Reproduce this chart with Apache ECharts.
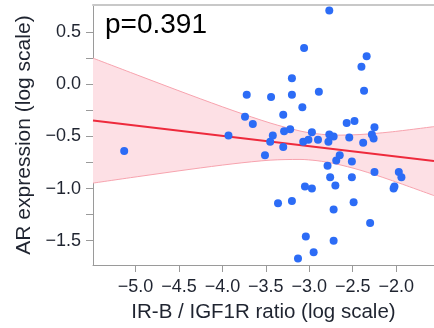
<!DOCTYPE html>
<html>
<head>
<meta charset="utf-8">
<script src="https://cdn.jsdelivr.net/npm/echarts@6/dist/echarts.min.js"></script>
<style>
  html, body { margin: 0; padding: 0; background: #fff; }
  #chart { width: 434px; height: 328px; }
</style>
</head>
<body>
<div id="chart"></div>
<script>
// points (log scale values)
const ratio = [
  -5.13, -3.93, -3.74, -3.65, -3.72, -3.51, -3.44, -3.45, -3.42, -3.36,
  -3.30, -3.29, -3.30, -3.22, -3.20, -3.20, -3.20, -3.13, -3.08, -3.07,
  -3.06, -3.05, -3.04, -3.01, -2.97, -2.97, -2.95, -2.90, -2.89, -2.77,
  -2.77, -2.72, -2.78, -2.79, -2.76, -2.72, -2.72, -2.70, -2.69, -2.65,
  -2.57, -2.54, -2.51, -2.51, -2.48, -2.49, -2.40, -2.38, -2.37, -2.34,
  -2.30, -2.28, -2.26, -2.25, -2.25, -2.03, -2.02, -1.97, -1.94
];
const expression = [
  -0.64, -0.49, -0.31, -0.38, -0.10, -0.68, -0.12, -0.55, -0.49, -1.14,
  -0.29, -0.45, -0.60, -0.43, 0.06, -0.10, -1.12, -1.67, -0.22, -0.55,
  0.35, -0.98, -1.46, -0.53, -0.46, -1.00, -1.61, -0.53, -0.07, 0.71,
  -0.48, -0.50, -0.55, -0.78, -0.89, -1.20, -1.50, -0.97, -0.73, -0.68,
  -0.37, -0.51, -0.89, -0.74, -0.35, -1.13, 0.17, -0.56, -0.06, 0.27,
  -1.33, -0.48, -0.52, -0.41, -0.84, -1.00, -0.98, -0.84, -0.89
];

// fit line and confidence band edges
const fitX = [-5.489, -1.565];
const fitY = [-0.347, -0.736];
const bandX = [-5.489, -4.948, -4.373, -3.878, -3.452, -3.107, -2.911, -2.704, -2.417, -2.071, -1.565];
const bandUpper = [0.252, 0.080, -0.101, -0.251, -0.370, -0.447, -0.474, -0.487, -0.481, -0.457, -0.405];
const bandLower = [-0.947, -0.882, -0.815, -0.762, -0.727, -0.720, -0.732, -0.761, -0.822, -0.916, -1.067];

const xTicks = [-5.0, -4.5, -4.0, -3.5, -3.0, -2.5, -2.0];
const yTicks = [-1.5, -1.25, -1.0, -0.75, -0.5, -0.25, 0, 0.25, 0.5];
const yLabels = [-1.5, -1.0, -0.5, 0, 0.5];
const pLabel = "p=0.391";

const X_MIN = -5.489, X_MAX = -1.565;
const Y_MIN = -1.733, Y_MAX = 0.762;

const FONT = "'Liberation Sans', Arial, sans-serif";
const TEXT = "#1f2430";
const AXIS = "#9a9a9a";
const fmt = (v) => v.toFixed(1).replace("-", "\u2212");

const points = ratio.map((x, i) => [x, expression[i]]);
const upperLine = bandX.map((x, i) => [x, bandUpper[i]]);
const lowerLine = bandX.map((x, i) => [x, bandLower[i]]);
const fitLine = fitX.map((x, i) => [x, fitY[i]]);

const chart = echarts.init(document.getElementById("chart"), null, { renderer: "canvas" });

chart.setOption({
  animation: false,
  backgroundColor: "#fff",
  grid: { left: 93, right: 0, top: 5, bottom: 63 },
  xAxis: [
    {
      type: "value",
      min: X_MIN,
      max: X_MAX,
      name: "IR-B / IGF1R ratio (log scale)",
      nameLocation: "middle",
      nameGap: 37,
      nameTextStyle: { fontFamily: FONT, fontSize: 20.5, color: TEXT },
      axisLine: { show: true, onZero: false, lineStyle: { color: AXIS, width: 1 } },
      axisTick: { show: true, length: 7, customValues: xTicks, lineStyle: { color: AXIS } },
      axisLabel: { customValues: xTicks, formatter: fmt, fontFamily: FONT, fontSize: 18, color: TEXT, margin: 13 },
      splitLine: { show: false },
    },
    {
      type: "value",
      position: "top",
      min: X_MIN,
      max: X_MAX,
      axisLine: { show: true, onZero: false, lineStyle: { color: "#c8c8c8", width: 2 } },
      axisTick: { show: false },
      axisLabel: { show: false },
      splitLine: { show: false },
    },
  ],
  yAxis: {
    type: "value",
    min: Y_MIN,
    max: Y_MAX,
    name: "AR expression (log scale)",
    nameLocation: "middle",
    nameGap: 55,
    nameTextStyle: { fontFamily: FONT, fontSize: 21, color: TEXT },
    axisLine: { show: true, onZero: false, lineStyle: { color: AXIS, width: 1 } },
    axisTick: { show: true, length: 7, customValues: yTicks, lineStyle: { color: AXIS } },
    axisLabel: { customValues: yLabels, formatter: fmt, fontFamily: FONT, fontSize: 18, color: TEXT, margin: 12 },
    splitLine: { show: false },
  },
  graphic: [
    {
      type: "text",
      z: 100,
      style: { x: 105, y: 25, text: pLabel, font: "28px " + FONT, fill: "#000", verticalAlign: "middle" },
    },
  ],
  series: [
    {
      type: "custom",
      z: 1,
      silent: true,
      data: [0],
      renderItem: (params, api) => {
        const pts = upperLine.concat(lowerLine.slice().reverse()).map((p) => api.coord(p));
        return { type: "polygon", shape: { points: pts }, style: { fill: "#fde0e5" } };
      },
    },
    {
      type: "line",
      z: 2,
      data: upperLine,
      smooth: 0.3,
      symbol: "none",
      lineStyle: { color: "#f7a3ae", width: 1 },
    },
    {
      type: "line",
      z: 2,
      data: lowerLine,
      smooth: 0.3,
      symbol: "none",
      lineStyle: { color: "#f7a3ae", width: 1 },
    },
    {
      type: "line",
      z: 3,
      data: fitLine,
      symbol: "none",
      lineStyle: { color: "#ee2a3c", width: 2 },
    },
    {
      type: "scatter",
      z: 4,
      data: points,
      symbolSize: 8,
      itemStyle: { color: "#2c6cf6", opacity: 1 },
    },
  ],
});
</script>
</body>
</html>
